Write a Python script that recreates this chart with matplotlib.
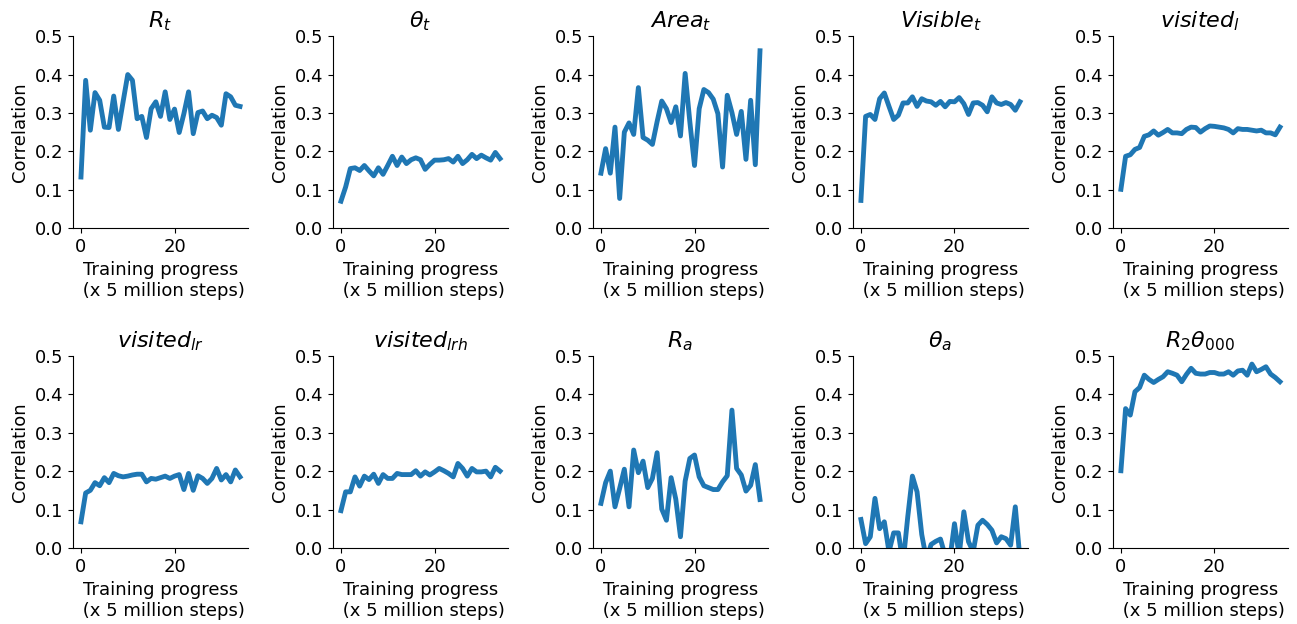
import numpy as np
import matplotlib
matplotlib.use("Agg")
import matplotlib.pyplot as plt

# Correlation per checkpoint (35 checkpoints, each = 5 million steps)
titles = [r"$R_t$", r"$\theta_t$", r"$Area_t$", r"$Visible_t$", r"$visited_l$",
          r"$visited_{lr}$", r"$visited_{lrh}$", r"$R_a$", r"$\theta_a$", r"$R_2\theta_{000}$"]

r_t = [0.133, 0.385, 0.255, 0.353, 0.333, 0.263, 0.262, 0.344, 0.257, 0.329,
       0.400, 0.385, 0.285, 0.291, 0.236, 0.311, 0.329, 0.291, 0.355, 0.283,
       0.310, 0.249, 0.298, 0.355, 0.246, 0.301, 0.305, 0.285, 0.294, 0.288,
       0.268, 0.350, 0.342, 0.320, 0.317]
theta_t = [0.070, 0.107, 0.155, 0.157, 0.150, 0.163, 0.149, 0.136, 0.157, 0.140,
           0.163, 0.187, 0.163, 0.185, 0.168, 0.178, 0.183, 0.178, 0.153, 0.166,
           0.177, 0.177, 0.178, 0.181, 0.172, 0.187, 0.168, 0.178, 0.192, 0.181,
           0.190, 0.183, 0.177, 0.197, 0.181]
area_t = [0.143, 0.207, 0.143, 0.263, 0.077, 0.250, 0.274, 0.244, 0.366, 0.236,
          0.229, 0.218, 0.277, 0.331, 0.311, 0.275, 0.316, 0.240, 0.403, 0.277,
          0.163, 0.311, 0.361, 0.353, 0.336, 0.298, 0.159, 0.346, 0.301, 0.244,
          0.304, 0.179, 0.333, 0.165, 0.462]
visible_t = [0.072, 0.291, 0.296, 0.283, 0.337, 0.352, 0.317, 0.283, 0.294, 0.326,
             0.326, 0.342, 0.317, 0.337, 0.331, 0.329, 0.320, 0.330, 0.316, 0.330,
             0.329, 0.340, 0.324, 0.296, 0.326, 0.327, 0.320, 0.303, 0.342, 0.326,
             0.322, 0.327, 0.322, 0.307, 0.329]
visited_l = [0.101, 0.187, 0.191, 0.205, 0.210, 0.239, 0.243, 0.253, 0.242, 0.249,
             0.257, 0.248, 0.248, 0.246, 0.257, 0.263, 0.262, 0.250, 0.259, 0.266,
             0.265, 0.263, 0.261, 0.257, 0.248, 0.259, 0.257, 0.257, 0.255, 0.253,
             0.255, 0.248, 0.248, 0.243, 0.263]
visited_lr = [0.068, 0.143, 0.150, 0.170, 0.162, 0.183, 0.170, 0.194, 0.188, 0.185,
              0.187, 0.190, 0.192, 0.192, 0.172, 0.181, 0.179, 0.183, 0.187, 0.181,
              0.187, 0.191, 0.152, 0.194, 0.150, 0.188, 0.181, 0.168, 0.181, 0.207,
              0.177, 0.191, 0.172, 0.203, 0.185]
visited_lrh = [0.097, 0.146, 0.146, 0.185, 0.161, 0.187, 0.178, 0.192, 0.168, 0.191,
               0.181, 0.181, 0.194, 0.191, 0.191, 0.191, 0.201, 0.187, 0.198, 0.190,
               0.198, 0.207, 0.201, 0.194, 0.185, 0.220, 0.207, 0.187, 0.207, 0.198,
               0.198, 0.200, 0.185, 0.210, 0.200]
r_a = [0.116, 0.170, 0.200, 0.107, 0.155, 0.205, 0.107, 0.255, 0.196, 0.226,
       0.157, 0.181, 0.248, 0.101, 0.072, 0.183, 0.127, 0.029, 0.174, 0.233,
       0.242, 0.185, 0.162, 0.157, 0.152, 0.152, 0.172, 0.188, 0.359, 0.207,
       0.190, 0.148, 0.163, 0.217, 0.126]
theta_a = [0.074, 0.011, 0.029, 0.129, 0.050, 0.068, -0.010, 0.039, 0.039, -0.040,
           0.080, 0.187, 0.146, 0.035, -0.030, 0.009, 0.017, 0.023, -0.020, -0.030,
           0.063, -0.020, 0.094, 0.016, -0.010, 0.059, 0.072, 0.061, 0.046, 0.013,
           0.029, 0.024, 0.007, 0.107, -0.030]
r2_theta000 = [0.201, 0.363, 0.346, 0.407, 0.418, 0.450, 0.439, 0.431, 0.439, 0.446,
               0.459, 0.455, 0.450, 0.433, 0.452, 0.468, 0.455, 0.453, 0.453, 0.457,
               0.457, 0.453, 0.453, 0.459, 0.450, 0.461, 0.463, 0.450, 0.479, 0.459,
               0.465, 0.472, 0.453, 0.444, 0.433]

series = [r_t, theta_t, area_t, visible_t, visited_l,
          visited_lr, visited_lrh, r_a, theta_a, r2_theta000]

fig, axes = plt.subplots(2, 5, figsize=(12.97, 6.24), dpi=100)
fig.subplots_adjust(left=0.0563, right=0.993, top=0.942, bottom=0.122,
                    wspace=0.486, hspace=0.667)

for ax, title, vals in zip(axes.flat, titles, series):
    ax.plot(np.arange(len(vals)), vals, color="tab:blue", linewidth=3.5)
    ax.set_ylim(0, 0.5)
    ax.set_yticks([0.0, 0.1, 0.2, 0.3, 0.4, 0.5])
    ax.set_xticks([0, 20])
    ax.set_title(title, fontsize=16)
    ax.set_ylabel("Correlation", fontsize=13)
    ax.set_xlabel("Training progress\n (x 5 million steps)", fontsize=13)
    ax.tick_params(labelsize=13)
    ax.spines["top"].set_visible(False)
    ax.spines["right"].set_visible(False)

plt.savefig("out.png")
